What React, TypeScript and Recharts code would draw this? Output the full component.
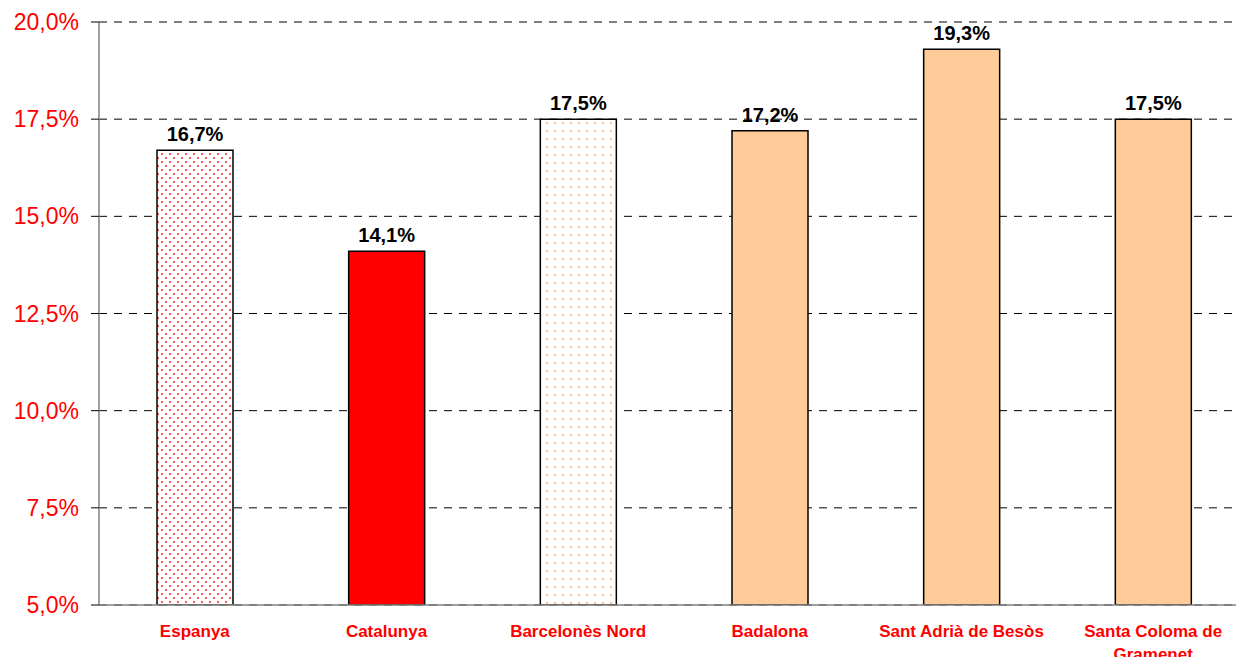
import React from 'react';
import { BarChart, Bar, XAxis, YAxis, CartesianGrid, Cell, LabelList, Text } from 'recharts';

const categories = ['Espanya', 'Catalunya', 'Barcelonès Nord', 'Badalona', 'Sant Adrià de Besòs', 'Santa Coloma de Gramenet'];
const values = [16.7, 14.1, 17.5, 17.2, 19.3, 17.5];
const fills = ['url(#dotsRed)', '#FF0000', 'url(#dotsOrange)', '#FFCC99', '#FFCC99', '#FFCC99'];
const yTicks = [5, 7.5, 10, 12.5, 15, 17.5, 20];

const data = categories.map((name, i) => ({ name, value: values[i] }));

const fmt = (v: number) => v.toFixed(1).replace('.', ',') + '%';

const FONT = '"Liberation Sans", Arial, sans-serif';

const XTick = (props: any) => {
  const { x, y, payload } = props;
  return (
    <Text
      x={x}
      y={y + 12}
      width={160}
      textAnchor="middle"
      verticalAnchor="start"
      lineHeight={23}
      fill="#FF0000"
      fontWeight="bold"
      fontSize={17}
      fontFamily={FONT}
    >
      {payload.value}
    </Text>
  );
};

export default function App() {
  return (
    <div style={{ position: 'absolute', left: 0, top: 0, width: 1236, height: 657, overflow: 'hidden', background: '#fff' }}>
      <svg width={0} height={0} style={{ position: 'absolute' }}>
        <defs>
          <pattern id="dotsRed" x={0} y={0} width={8} height={8} patternUnits="userSpaceOnUse">
            <rect width={8} height={8} fill="#fff" />
            <circle cx={2} cy={2} r={1} fill="#FF2020" />
            <circle cx={6} cy={6} r={1} fill="#FF2020" />
          </pattern>
          <pattern id="dotsOrange" x={0} y={0} width={8} height={8} patternUnits="userSpaceOnUse">
            <rect width={8} height={8} fill="#fff" />
            <circle cx={3} cy={3} r={1.1} fill="#F5B47E" />
          </pattern>
        </defs>
      </svg>
      <BarChart
        width={1249}
        height={657}
        data={data}
        margin={{ top: 22, right: 0, bottom: 0, left: 0 }}
        barSize={76}
      >
        <CartesianGrid vertical={false} stroke="#000" strokeDasharray="8 7" />
        <XAxis
          dataKey="name"
          interval={0}
          tickLine={false}
          axisLine={{ stroke: '#808080', strokeWidth: 1.5 }}
          tick={<XTick />}
          height={52}
        />
        <YAxis
          domain={[5, 20]}
          ticks={yTicks}
          allowDataOverflow
          width={99}
          tickSize={8}
          tickMargin={12}
          tickLine={{ stroke: '#000' }}
          axisLine={{ stroke: '#808080', strokeWidth: 1.5 }}
          tickFormatter={fmt}
          tick={{ fill: '#FF0000', fontSize: 23, fontFamily: FONT }}
        />
        <Bar dataKey="value" stroke="#000" strokeWidth={1.5} isAnimationActive={false}>
          {data.map((d, i) => (
            <Cell key={d.name} fill={fills[i]} />
          ))}
          <LabelList
            dataKey="value"
            position="top"
            offset={9}
            formatter={(v: any) => fmt(Number(v))}
            fill="#000"
            fontWeight="bold"
            fontSize={20}
            fontFamily={FONT}
          />
        </Bar>
      </BarChart>
    </div>
  );
}
